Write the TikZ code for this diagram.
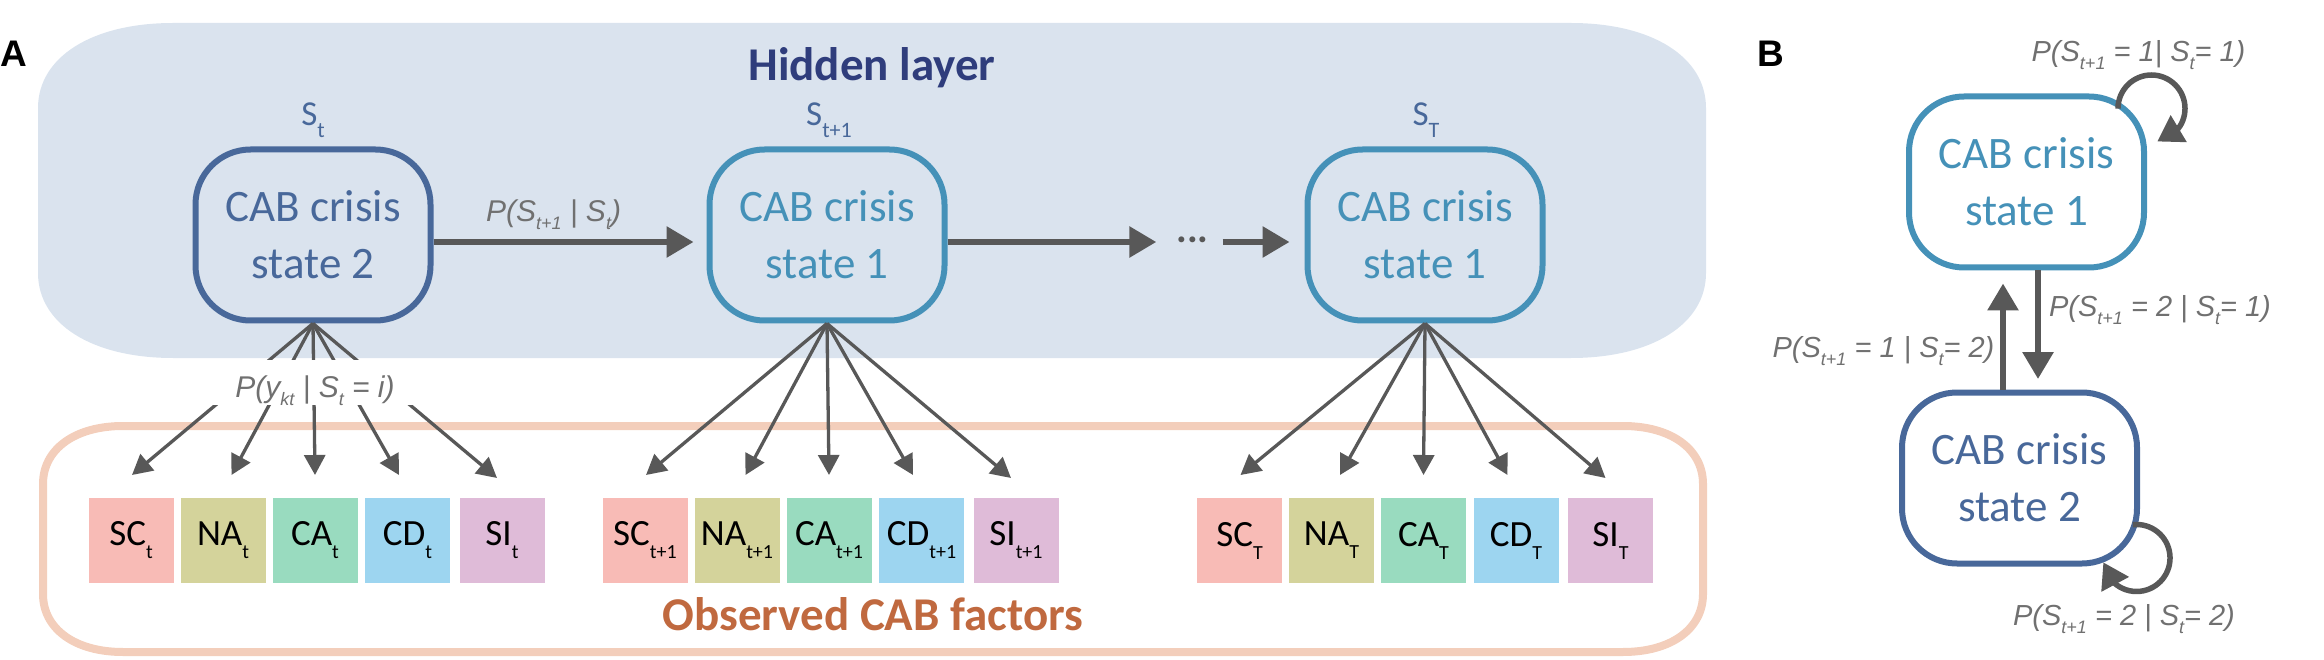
\documentclass[tikz,border=0pt]{standalone}
\usepackage{fontspec}
\setmainfont{Carlito}
\newfontfamily\arialf{Liberation Sans}
\usetikzlibrary{arrows.meta,bending}

\definecolor{hidfill}{HTML}{DAE3EE}
\definecolor{hidtext}{HTML}{2F3D7C}
\definecolor{stwo}{HTML}{48689A}
\definecolor{sone}{HTML}{4591B8}
\definecolor{obsline}{HTML}{F3CEBB}
\definecolor{obstext}{HTML}{C0693F}
\definecolor{arr}{HTML}{585858}
\definecolor{labgray}{HTML}{707070}
\definecolor{cSC}{HTML}{F8BBB6}
\definecolor{cNA}{HTML}{D4D39B}
\definecolor{cCA}{HTML}{99DBBF}
\definecolor{cCD}{HTML}{9DD5F0}
\definecolor{cSI}{HTML}{DFBBD8}

\newcommand\fs[1]{\fontsize{#1}{#1}\selectfont}
\newcommand\psub[1]{\raisebox{-8pt}{\fs{18}#1}}
\newcommand\bsub[1]{\raisebox{-13pt}{\fs{20}#1}}
\newcommand\ssub[1]{\raisebox{-12pt}{\fs{22}#1}}

\tikzset{
  hstate/.style={draw, line width=6pt, rounded corners=55pt, minimum width=235pt,
    minimum height=171pt, inner sep=0pt, align=center, font=\fontsize{45}{57}\selectfont},
  stone/.style={hstate, draw=sone, text=sone},
  sttwo/.style={hstate, draw=stwo, text=stwo},
  slabel/.style={anchor=base, text=stwo, font=\fs{35}, inner sep=0pt},
  fac/.style={minimum width=85pt, minimum height=85pt, inner sep=0pt, font=\fs{37}},
  plab/.style={anchor=base, text=labgray, font=\arialf\itshape\fs{30}, inner sep=0pt},
  blab/.style={plab, font=\arialf\itshape\fs{29}},
  bigarrow/.style={draw=arr, line width=6pt, -{Triangle[length=27pt,width=30pt]}},
  fanarrow/.style={draw=arr, line width=3.3pt, -{Triangle[length=20pt,width=21pt]}},
  looparrow/.style={draw=arr, line width=5.5pt, -{Triangle[length=25pt,width=30pt]}},
  layertitle/.style={anchor=base, font=\bfseries\fs{47}, inner sep=0pt},
  panel/.style={anchor=base west, font=\arialf\bfseries\fs{37}, inner sep=0pt},
  dotsty/.style={anchor=base, text=arr, font=\bfseries\fs{40}, inner sep=0pt}
}

\begin{document}
\begin{tikzpicture}[x=1pt,y=-1pt]
\useasboundingbox (0,0) rectangle (2324,660);

% hidden layer background
\fill[hidfill] (173,23) -- (1571,23) .. controls (1652,23) and (1706,57) .. (1706,108)
  -- (1706,273) .. controls (1706,324) and (1652,358) .. (1571,358)
  -- (173,358) .. controls (92,358) and (38,324) .. (38,273)
  -- (38,108) .. controls (38,57) and (92,23) .. (173,23) -- cycle;

% observed frame
\draw[obsline, line width=8pt] (123,426) -- (1623,426) .. controls (1671,426) and (1703,449) .. (1703,484)
  -- (1703,594) .. controls (1703,629) and (1671,652) .. (1623,652)
  -- (123,652) .. controls (75,652) and (43,629) .. (43,594)
  -- (43,484) .. controls (43,449) and (75,426) .. (123,426) -- cycle;

\node[panel] (pa) at (0,67) {A};
\node[panel] (pb) at (1757,67) {B};

\node[layertitle, text=hidtext] (hl) at (872,81) {Hidden layer};
\node[layertitle, text=obstext] (ol) at (873,630) {Observed CAB factors};

% hidden states
\node[sttwo] (St) at (313,235) {CAB crisis\\state 2};
\node[stone] (St1) at (827,235) {CAB crisis\\state 1};
\node[stone] (ST) at (1425,235) {CAB crisis\\state 1};

\node[slabel] (lSt) at (313,126) {S\ssub{t}};
\node[slabel] (lSt1) at (829,126) {S\ssub{t+1}};
\node[slabel] (lST) at (1426,126) {S\ssub{T}};

\node[dotsty] (dots) at (1192.5,243) {...};

\draw[bigarrow, shorten >=13pt] ([yshift=-7pt]St.east) -- ([yshift=-7pt]St1.west);
\draw[bigarrow, shorten >=20pt] ([yshift=-7pt]St1.east) -- ([yshift=-7pt]St1.east -| dots.west);
\draw[bigarrow, shorten <=14pt, shorten >=15pt] ([yshift=-7pt]ST.west -| dots.east) -- ([yshift=-7pt]ST.west);

\node[plab] (ptr) at (553.5,222) {P(S\psub{t+1} | S\psub{t})};

% observed factors and emission arrows
\foreach \gn/\cx/\sx/\src in {a/315/t/St, b/829/t+1/St1, c/1423.5/T/ST} {
  \node[fac, fill=cSC] (\gn-SC) at (\cx-184,540.5) {SC\bsub{\sx}};
  \node[fac, fill=cNA] (\gn-NA) at (\cx-92,540.5) {NA\bsub{\sx}};
  \node[fac, fill=cCA] (\gn-CA) at (\cx,540.5) {CA\bsub{\sx}};
  \node[fac, fill=cCD] (\gn-CD) at (\cx+92.5,540.5) {CD\bsub{\sx}};
  \node[fac, fill=cSI] (\gn-SI) at (\cx+187,540.5) {SI\bsub{\sx}};
  \coordinate (\gn-t1) at (\cx-183,475);
  \coordinate (\gn-t2) at (\cx-83.5,475);
  \coordinate (\gn-t3) at (\cx,475);
  \coordinate (\gn-t4) at (\cx+84,475);
  \coordinate (\gn-t5) at (\cx+182,478);
  \foreach \k in {1,...,5} {
    \draw[fanarrow] (\src.south) -- (\gn-t\k);
  }
}

\node[plab, fill=white, anchor=center, text height=37pt, text depth=8pt, minimum width=215pt]
  (pemit) at (315,382.5) {P(y\psub{kt} | S\psub{t} = i)};

% panel B
\node[stone, fill=white] (b1) at (2026.5,182) {CAB crisis\\state 1};
\node[sttwo, fill=white] (b2) at (2019.5,478) {CAB crisis\\state 2};

\coordinate (dnx) at (2038,0);
\coordinate (upx) at (2003,0);
\draw[bigarrow] (b1.south -| dnx) -- ([yshift=10.5pt]b2.north -| dnx);
\draw[bigarrow] (b2.north -| upx) -- ([yshift=-13pt]b1.south -| upx);

\coordinate (l1s) at (2118,104);
\draw[looparrow] (l1s) -- (2118,108.5) arc[start angle=180, end angle=440, radius=33.5];
\coordinate (l2s) at (2132.8,524.7);
\draw[looparrow] (l2s) arc[start angle=263.6, end angle=532.5, radius=33.5];

\node[blab] (p11) at (2138.5,62) {P(S\psub{t+1} = 1| S\psub{t}= 1)};
\node[blab] (p21) at (2160,317) {P(S\psub{t+1} = 2 | S\psub{t}= 1)};
\node[blab] (p12) at (1883.5,357) {P(S\psub{t+1} = 1 | S\psub{t}= 2)};
\node[blab] (p22) at (2124,625) {P(S\psub{t+1} = 2 | S\psub{t}= 2)};
\end{tikzpicture}
\end{document}
